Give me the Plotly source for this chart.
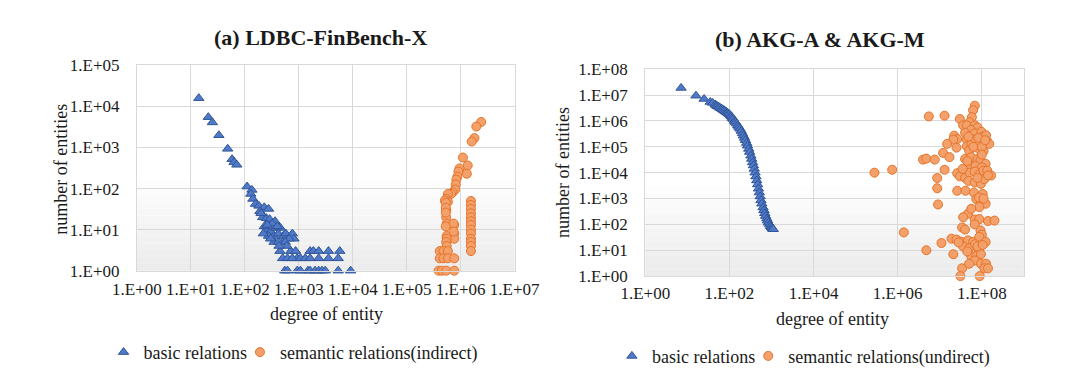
import plotly.graph_objects as go

# ---------------- data: (a) LDBC-FinBench-X ----------------
a_basic_x = [14, 21, 25, 33, 48, 58, 63, 71, 110, 135, 129, 141, 158, 182, 229, 275,
             214, 251, 288, 363, 251, 302, 372, 457, 275, 347, 417, 513, 347, 501,
             575, 759, 813, 661, 447, 708, 871, 933, 501, 617, 759, 1070, 1320,
             1620, 1860, 2340, 1620, 2340, 3550, 3550, 5750, 5370,
             550, 617, 933, 1070, 1480, 1620, 2000, 2340, 2690, 3090, 5370, 9120,
             190, 200, 230, 320, 400, 220, 260, 300, 420, 560, 600, 430]
a_basic_y = [16000, 5500, 4100, 2000, 930, 520, 440, 380, 112, 93, 74, 56, 42, 38, 35, 32,
             20, 19, 18, 16, 10, 9, 11, 11, 7, 7, 8, 7, 5, 5,
             8, 8, 6, 6, 3, 3, 3, 2, 2, 2, 2, 2, 2,
             3, 3, 3, 2, 2, 3, 2, 3, 2,
             1, 1, 1, 1, 1, 1, 1, 1, 1, 1, 1, 1,
             28, 25, 12, 14, 12, 8, 13, 6, 5, 5, 4, 4]

a_sem_x = [2.4e6, 1.95e6, 1.8e6, 1.6e6, 1.1e6, 1.35e6, 1.3e6, 9.5e5, 9.1e5, 8.7e5,
           8.3e5, 8.1e5, 7.9e5, 7.1e5, 6.6e5, 5.8e5, 5.4e5, 5.8e5, 5.1e5, 5.4e5,
           5.4e5, 5.5e5, 7.6e5, 7.6e5, 7.6e5, 5.5e5, 5.5e5, 5.4e5, 5.5e5,
           4.1e5, 4.8e5, 5.8e5, 4.1e5, 4.8e5, 5.8e5, 7.6e5,
           3.9e5, 4.5e5, 5.4e5, 7.6e5,
           1.55e6, 1.55e6, 1.55e6, 1.55e6, 1.55e6, 1.55e6, 1.55e6, 1.55e6, 1.55e6,
           1.55e6, 1.55e6, 1.55e6, 1.55e6,
           7.4e5, 7.4e5, 5.3e5, 5.3e5, 5.3e5, 5.3e5]
a_sem_y = [4200, 3250, 1700, 1400, 570, 365, 230, 310, 260, 195,
           165, 126, 95, 81, 74, 74, 56, 48, 51, 30,
           20, 14, 13, 8, 6, 7, 6, 5, 4,
           3, 3, 3, 2, 2, 2, 2,
           1, 1, 1, 1,
           50, 40, 32, 25, 20, 16, 13, 10, 8, 6, 5, 4, 3,
           14, 9, 45, 34, 26, 12]

# ---------------- data: (b) AKG-A & AKG-M ----------------
b_basic_x = [7.1, 16, 25, 35, 40, 46, 49, 52, 56, 60, 65, 69, 74, 79, 85, 89, 95, 100,
             107, 112, 117, 123, 132, 138, 148, 158, 166, 178, 191, 204, 214, 229,
             240, 257, 269, 288, 302, 324, 339, 355, 372, 389, 407, 427, 447, 468,
             490, 513, 537, 562, 589, 631, 661, 692, 724, 776, 813, 851, 912, 955,
             1000, 1050, 1100]
b_basic_y = [1.9e7, 9.5e6, 7.1e6, 5.4e6, 5.0e6, 4.3e6, 4.0e6, 3.7e6, 3.5e6, 3.2e6,
             3.0e6, 2.8e6, 2.6e6, 2.4e6, 2.2e6, 2.1e6, 1.95e6, 1.8e6,
             1.6e6, 1.5e6, 1.3e6, 1.2e6, 1.0e6, 9.1e5, 7.9e5, 6.8e5, 5.9e5, 5.0e5,
             4.1e5, 3.3e5, 2.7e5, 2.2e5, 1.8e5, 1.4e5, 1.1e5, 8.3e4, 6.3e4, 4.5e4,
             3.4e4, 2.5e4, 1.9e4, 1.4e4, 1.0e4, 7.1e3, 5.0e3, 3.5e3,
             2.4e3, 1.7e3, 1.2e3, 850, 630, 450, 350, 270, 210, 166, 138, 115, 98, 85,
             76, 69, 65]

b_sem_x = [2.8e5, 7.4e5, 1.4e6, 4.8e6, 5.5e6, 1.3e7, 3.0e7, 2.2e7, 2.6e7, 2.1e7,
           1.5e7, 2.5e7, 1.2e7, 1.7e7, 4.0e6, 4.8e6, 7.6e6, 1.3e7, 2.6e7, 8.7e6,
           8.7e6, 2.6e7, 9.1e6, 3.4e7, 1.1e7, 2.1e7, 3.4e7, 3.1e7, 8.9e7, 1.4e8,
           2.0e8, 1.9e7,
           6.8e7, 6.2e7, 5.8e7, 5.1e7, 3.6e7, 4.4e7, 6.8e7, 7.9e7, 5.5e7, 4.4e7,
           6.8e7, 9.8e7, 1.05e8, 1.35e8, 1.5e8, 4.4e7, 5.6e7, 7.9e7, 1.1e8, 5.0e7,
           7.1e7, 8.9e7, 1.26e8, 6.3e7, 4.0e7, 4.8e7, 1.0e8, 8.3e7, 1.2e8,
           4.0e7, 5.6e7, 7.9e7, 9.3e7, 1.23e8, 5.0e7, 7.1e7, 1.0e8, 3.0e7, 4.0e7,
           5.1e7, 6.8e7, 8.7e7, 1.1e8, 1.35e8, 1.66e8, 4.8e7, 6.8e7, 9.5e7, 1.15e8,
           7.9e7, 1.4e8, 3.5e7, 4.5e7, 1.0e8,
           4.1e7, 6.5e7, 1.05e8, 7.4e7, 9.5e7, 1.23e8, 8.7e7, 8.5e7, 1.1e8, 4.7e7,
           3.6e7, 6.8e7, 8.7e7, 4.0e7, 6.8e7, 9.3e7, 1.0e8, 5.6e7,
           2.5e7, 3.3e7, 4.7e7, 6.2e7, 8.7e7, 1.23e8, 3.6e7, 5.0e7, 6.9e7, 8.5e7,
           5.6e7, 7.4e7, 9.5e7, 6.8e7, 9.5e7, 1.26e8, 1.15e8, 4.5e7, 7.9e7, 1.05e8,
           2.8e7, 5.0e7, 1.4e8]
b_sem_y = [1.0e4, 1.3e4, 49, 10, 1.5e6, 1.6e6, 1.2e6, 2.7e5, 2.0e5, 1.9e5,
           1.3e5, 9.3e4, 5.8e4, 4.0e4, 3.2e4, 3.5e4, 3.2e4, 1.3e4, 9.5e3, 6.2e3,
           2.5e3, 2.0e3, 590, 76, 19, 7, 2, 1, 1, 135,
           140, 28,
           3.9e6, 2.6e6, 1.4e6, 8.9e5, 6.8e5, 6.8e5, 6.8e5, 5.6e5, 4.5e5, 1.9e5,
           3.3e5, 3.8e5, 2.5e5, 1.6e5, 1.3e5, 1.05e5, 1.26e5, 9.1e4, 6.9e4, 7.1e4,
           2.0e5, 1.4e5, 2.8e5, 1.0e5, 3.5e5, 2.5e5, 1.0e5, 2.2e5, 1.8e5,
           3.4e4, 4.0e4, 3.4e4, 3.0e4, 2.2e4, 2.0e4, 1.8e4, 1.6e4, 7.2e3, 6.3e3,
           1.0e4, 1.1e4, 8.5e3, 1.2e4, 1.2e4, 7.8e3, 4.8e3, 4.2e3, 3.7e3, 5.6e3,
           6.3e3, 7.9e3, 1.4e4, 2.8e4, 5.0e4,
           2.0e3, 1.7e3, 1.5e3, 950, 720, 630, 470, 1.1e3, 1.0e3, 260,
           190, 155, 160, 63, 100, 58, 40, 400,
           26, 21, 24, 21, 33, 21, 14, 12, 17, 10,
           6, 6, 7, 4, 3, 3, 2, 9, 14, 16,
           20, 3, 2]

a_x_ticks = [1, 1e1, 1e2, 1e3, 1e4, 1e5, 1e6, 1e7]
a_x_text = ["1.E+00", "1.E+01", "1.E+02", "1.E+03", "1.E+04", "1.E+05", "1.E+06", "1.E+07"]
a_y_ticks = [1, 1e1, 1e2, 1e3, 1e4, 1e5]
a_y_text = ["1.E+00", "1.E+01", "1.E+02", "1.E+03", "1.E+04", "1.E+05"]
b_x_ticks = [1, 1e2, 1e4, 1e6, 1e8]
b_x_text = ["1.E+00", "1.E+02", "1.E+04", "1.E+06", "1.E+08"]
b_y_ticks = [1, 1e1, 1e2, 1e3, 1e4, 1e5, 1e6, 1e7, 1e8]
b_y_text = ["1.E+00", "1.E+01", "1.E+02", "1.E+03", "1.E+04", "1.E+05", "1.E+06", "1.E+07", "1.E+08"]

# ---------------- styling ----------------
FONT = "Liberation Serif, Times New Roman, serif"
GRID = "#d9d9d9"
TXT = "#1a1a1a"
tri = dict(symbol="triangle-up", size=9, color="#5079C9", line=dict(color="#2F5597", width=1))
dot = dict(symbol="circle", size=9, color="#F3A06A", line=dict(color="#E5742A", width=1))

fig = go.Figure()
fig.add_trace(go.Scatter(x=a_basic_x, y=a_basic_y, mode="markers", marker=tri,
                         name="basic relations", xaxis="x", yaxis="y", legend="legend",
                         cliponaxis=False))
fig.add_trace(go.Scatter(x=a_sem_x, y=a_sem_y, mode="markers", marker=dot,
                         name="semantic relations(indirect)", xaxis="x", yaxis="y",
                         legend="legend2", cliponaxis=False))
fig.add_trace(go.Scatter(x=b_basic_x, y=b_basic_y, mode="markers", marker=tri,
                         name="basic relations", xaxis="x2", yaxis="y2", legend="legend3",
                         cliponaxis=False))
fig.add_trace(go.Scatter(x=b_sem_x, y=b_sem_y, mode="markers", marker=dot,
                         name="semantic relations(undirect)", xaxis="x2", yaxis="y2",
                         legend="legend4", cliponaxis=False))

W, H = 1080, 381
axcommon = dict(type="log", showgrid=True, gridcolor=GRID, gridwidth=1, zeroline=False,
                showline=True, linecolor=GRID, linewidth=1, mirror=True, ticks="",
                tickfont=dict(family=FONT, size=17, color=TXT))


def leg(xpx, ypx):
    return dict(orientation="h", x=xpx / W, y=(H - ypx) / H, xanchor="left", yanchor="middle",
                font=dict(family=FONT, size=18, color=TXT), bgcolor="rgba(0,0,0,0)",
                itemwidth=30)


fig.update_layout(
    width=W, height=H, margin=dict(l=0, r=0, t=0, b=0),
    paper_bgcolor="white", plot_bgcolor="rgba(0,0,0,0)",
    font=dict(family=FONT, color=TXT),
    xaxis=dict(axcommon, domain=[109 / W, 505 / W], range=[0, 7], anchor="y",
               tickvals=a_x_ticks, ticktext=a_x_text, ticklabelstandoff=3),
    yaxis=dict(axcommon, domain=[(H - 267) / H, (H - 51) / H], range=[0, 5], anchor="x",
               tickvals=a_y_ticks, ticktext=a_y_text, ticklabelstandoff=13),
    xaxis2=dict(axcommon, domain=[642 / W, 1039 / W], range=[0, 9], anchor="y2",
                tickvals=b_x_ticks, ticktext=b_x_text, ticklabelstandoff=1),
    yaxis2=dict(axcommon, domain=[(H - 272.7) / H, (H - 55) / H], range=[0, 8], anchor="x2",
                tickvals=b_y_ticks, ticktext=b_y_text, ticklabelstandoff=13),
    legend=leg(74, 353),
    legend2=leg(217, 353),
    legend3=leg(607, 357),
    legend4=leg(750, 357),
    showlegend=True,
)

# subtle Excel-like gradient in lower part of plot areas
shapes = []
nb = 14
for xr, yr in (("x", "y"), ("x2", "y2")):
    for i in range(nb):
        y0 = 0.47 * i / nb
        y1 = 0.47 * (i + 1) / nb
        g = int(236 + (255 - 236) * (i / (nb - 1)))
        shapes.append(dict(type="rect", xref=xr + " domain", yref=yr + " domain",
                           x0=0, x1=1, y0=y0, y1=y1, line=dict(width=0),
                           fillcolor=f"rgb({g},{g},{g})", layer="below"))
fig.update_layout(shapes=shapes)

ann = [
    dict(text="<b>(a) LDBC-FinBench-X</b>", x=301 / W, y=(H - 22) / H, size=22, angle=0),
    dict(text="<b>(b) AKG-A &amp; AKG-M</b>", x=825 / W, y=(H - 24) / H, size=22, angle=0),
    dict(text="degree of entity", x=308 / W, y=(H - 313) / H, size=18, angle=0),
    dict(text="degree of entity", x=838 / W, y=(H - 318) / H, size=18, angle=0),
    dict(text="number of entities", x=29 / W, y=(H - 160) / H, size=18, angle=-90),
    dict(text="number of entities", x=556 / W, y=(H - 164) / H, size=18, angle=-90),
]
for a in ann:
    fig.add_annotation(text=a["text"], x=a["x"], y=a["y"], xref="paper", yref="paper",
                       showarrow=False, xanchor="center", yanchor="middle",
                       textangle=a["angle"], font=dict(family=FONT, size=a["size"], color=TXT))

fig.write_html("out.html")
